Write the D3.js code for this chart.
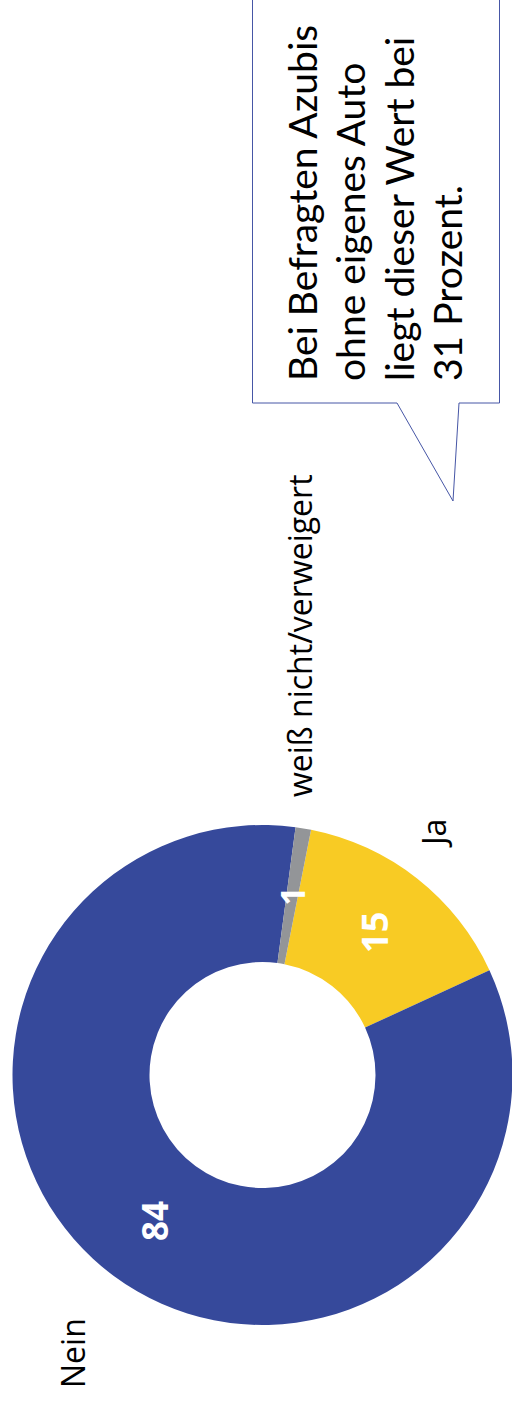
<!DOCTYPE html>
<html>
<head>
<meta charset="utf-8">
<script src="https://cdn.jsdelivr.net/npm/d3@7"></script>
<style>
  html, body { margin: 0; padding: 0; background: #fff; }
  svg { display: block; }
  text { font-family: "Open Sans", "Noto Sans", sans-serif; }
  text.callout { font-family: Lato, "Open Sans", sans-serif; }
</style>
</head>
<body>
<svg id="chart" width="512" height="1403"></svg>
<script>
// Anteil der Befragten (Prozent)
const categories = ["Ja", "Nein", "weiß nicht/verweigert"];
const values = [15, 84, 1];
const colors = ["#F8CB24", "#36499B", "#939598"];
const calloutLines = [
  "Bei Befragten Azubis",
  "ohne eigenes Auto",
  "liegt dieser Wert bei",
  "31 Prozent."
];

const W = 512, H = 1403;
const svg = d3.select("#chart");

// The whole chart is laid out on a landscape canvas (H wide, W tall)
// and turned a quarter turn counter-clockwise onto the page.
const g = svg.append("g").attr("transform", `translate(0,${H}) rotate(-90)`);

const cx = 328, cy = 262.5, rOuter = 250, rInner = 113;
const deg = Math.PI / 180;
const start = 101.2 * deg;

const pie = d3.pie().sort(null).value(d => d.value)
  .startAngle(start).endAngle(start + 2 * Math.PI);
const arc = d3.arc().innerRadius(rInner).outerRadius(rOuter);

const data = categories.map((c, i) => ({ category: c, value: values[i], color: colors[i] }));
const arcs = pie(data);

const donut = g.append("g").attr("transform", `translate(${cx},${cy})`);
donut.selectAll("path.slice")
  .data(arcs)
  .join("path")
  .attr("class", "slice")
  .attr("d", arc)
  .attr("fill", d => d.data.color);

// value labels centred in each ring segment
const labelSize = { "Ja": 36, "Nein": 35, "weiß nicht/verweigert": 34 };
donut.selectAll("text.value")
  .data(arcs)
  .join("text")
  .attr("class", "value")
  .attr("transform", d => `translate(${arc.centroid(d)})`)
  .attr("text-anchor", "middle")
  .attr("dominant-baseline", "central")
  .attr("fill", "#fff")
  .attr("font-weight", 700)
  .attr("font-size", d => labelSize[d.data.category])
  .text(d => d.data.value);

// category labels
const catPos = {
  "Nein": [15, 85],
  "Ja": [558, 446],
  "weiß nicht/verweigert": [606, 312]
};
g.selectAll("text.cat")
  .data(categories)
  .join("text")
  .attr("class", "cat")
  .attr("x", d => catPos[d][0])
  .attr("y", d => catPos[d][1])
  .attr("font-size", 32)
  .attr("fill", "#000")
  .text(d => d);

// speech-bubble callout
const boxL = 1000, boxR = H + 10, boxT = 252.5, boxB = 499.5;
const bubble = [
  [boxR, boxT], [boxL, boxT], [boxL, 397], [902, 453], [1000, 459],
  [boxL, boxB], [boxR, boxB]
];
g.append("path")
  .attr("d", d3.line()(bubble))
  .attr("fill", "#fff")
  .attr("stroke", "#4656A6")
  .attr("stroke-width", 1);

g.selectAll("text.callout")
  .data(calloutLines)
  .join("text")
  .attr("class", "callout")
  .attr("x", 1022)
  .attr("y", (d, i) => 317 + i * 48.3)
  .attr("font-size", 39)
  .attr("fill", "#000")
  .text(d => d);
</script>
</body>
</html>
